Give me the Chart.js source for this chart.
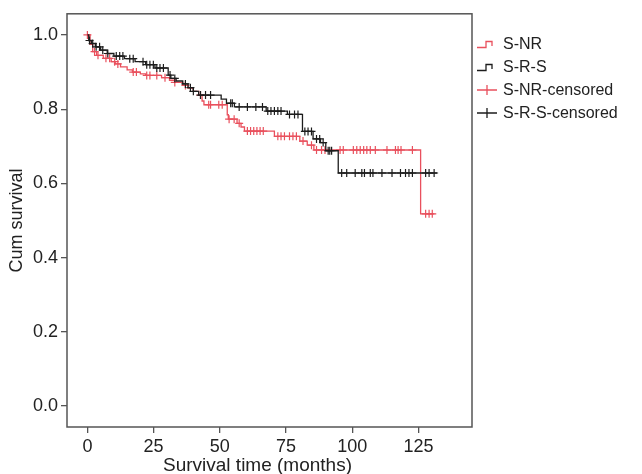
<!DOCTYPE html>
<html>
<head>
<meta charset="utf-8">
<script src="https://cdn.jsdelivr.net/npm/chart.js"></script>
<style>
  html, body { margin: 0; padding: 0; background: #fff; }
  #wrap { position: relative; width: 642px; height: 474px; overflow: hidden; }
  #legend { position: absolute; left: 0; top: 0; font-family: "Liberation Sans", Arial, Helvetica, sans-serif; font-size: 16px; color: #222; }
  .item { position: absolute; left: 476px; height: 20px; display: flex; align-items: center; white-space: nowrap; }
  .item svg { width: 24px; height: 16px; margin-right: 3px; }
</style>
</head>
<body>
<div id="wrap">
  <canvas id="c" width="642" height="474"></canvas>
  <div id="legend"></div>
</div>
<script>
// ---- Data ----
// Kaplan-Meier steps: time (months) and cumulative survival after the step
const timeNR = [0, 1, 2, 3.5, 6, 9, 10.5, 12.5, 15, 17, 20, 22, 28, 31, 33, 36, 38, 40, 42, 43.3, 44, 52.8, 53.2, 56.5, 58, 59.3, 70.6, 80.2, 83, 85.5, 125.8, 131];
const survNR = [1.0, 0.975, 0.955, 0.945, 0.937, 0.928, 0.922, 0.914, 0.906, 0.900, 0.895, 0.891, 0.885, 0.878, 0.872, 0.864, 0.857, 0.848, 0.838, 0.822, 0.812, 0.785, 0.773, 0.762, 0.752, 0.741, 0.727, 0.714, 0.703, 0.690, 0.518, 0.518];

const timeRS = [0, 0.5, 1.5, 3, 5, 7.5, 10, 14, 18, 22, 25.5, 30.5, 31.5, 33.5, 36, 38, 40, 42, 50.5, 52.5, 55.5, 67.5, 75.5, 81.2, 85.2, 88, 90, 94.7, 132];
const survRS = [1.0, 0.985, 0.977, 0.968, 0.959, 0.950, 0.943, 0.936, 0.928, 0.920, 0.911, 0.892, 0.883, 0.876, 0.868, 0.858, 0.848, 0.838, 0.827, 0.816, 0.806, 0.795, 0.786, 0.740, 0.720, 0.710, 0.688, 0.628, 0.628];

// Censoring times (months)
const censorNR = [0, 2.7, 4, 7, 8.4, 10.3, 11.5, 17.3, 18.5, 22.4, 23.6, 26.2, 29.3, 33, 37, 42.7, 45.8, 46.5, 49.6, 50.9, 53.5, 55.4, 57.3, 60.4, 61.6, 62.8, 64, 65.2, 66.4, 71.9, 73.1, 74.4, 76.3, 77.6, 78.9, 81.4, 84.6, 86.5, 88.4, 89.7, 95.4, 96.6, 100.4, 101.7, 103, 104.3, 105.5, 106.8, 108.7, 113.1, 116.3, 117.3, 118.4, 122.7, 127.7, 129, 130.2];
const censorRS = [0.8, 2, 3.3, 4.6, 5.8, 7.7, 10.9, 12.2, 13.4, 16, 17.3, 21, 22.4, 23.6, 24.9, 26.2, 27.4, 28.7, 31.2, 33, 37, 38.9, 40, 42.7, 44.6, 46.5, 54.1, 54.7, 57.3, 60.4, 63.6, 66.1, 68.1, 69.3, 70.6, 71.9, 73.1, 76.3, 78.2, 79.5, 82.1, 83.3, 84.6, 86.5, 87.7, 89, 90.9, 91.5, 92.2, 96, 97.9, 101.1, 103.6, 104.6, 106.8, 107.8, 111.2, 115, 118.2, 120.1, 121.4, 122.7, 127.7, 129, 130.9];

const xTicks = [0, 25, 50, 75, 100, 125];
const yTicks = [0.0, 0.2, 0.4, 0.6, 0.8, 1.0];
const seriesNames = ["S-NR", "S-R-S", "S-NR-censored", "S-R-S-censored"];
const xTitle = 'Survival time (months)';
const yTitle = 'Cum survival';

// ---- Helpers ----
const RED = '#e9505d';
const BLACK = '#1c1c1c';
const FRAME = '#555555';
const FONT = '"Liberation Sans", Arial, Helvetica, sans-serif';

function survivalAt(times, surv, t) {
  let v = surv[0];
  for (let i = 0; i < times.length; i++) { if (times[i] <= t) v = surv[i]; else break; }
  return v;
}
const stepPts = (times, surv) => times.map((t, i) => ({ x: t, y: surv[i] }));
const censorPts = (ct, times, surv) => ct.map(t => ({ x: t, y: survivalAt(times, surv, t) }));

const framePlugin = {
  id: 'frame',
  afterDatasetsDraw(chart) {
    const a = chart.chartArea, ctx = chart.ctx;
    ctx.save();
    ctx.strokeStyle = FRAME;
    ctx.lineWidth = 1.5;
    ctx.strokeRect(a.left, a.top, a.right - a.left, a.bottom - a.top);
    ctx.restore();
  },
  afterDraw(chart) {
    const ctx = chart.ctx;
    ctx.save();
    ctx.fillStyle = '#222';
    ctx.font = '19px ' + FONT;
    ctx.textAlign = 'center';
    ctx.textBaseline = 'alphabetic';
    ctx.fillText(xTitle, 257.5, 471);
    ctx.restore();
  }
};

new Chart(document.getElementById('c'), {
  type: 'line',
  data: {
    datasets: [
      { label: seriesNames[1], data: stepPts(timeRS, survRS), borderColor: BLACK, borderWidth: 1.3, pointRadius: 0, stepped: 'before', fill: false },
      { label: seriesNames[3], data: censorPts(censorRS, timeRS, survRS), showLine: false, pointStyle: 'cross', pointRadius: 4, pointBorderWidth: 1.2, borderColor: BLACK, pointBorderColor: BLACK },
      { label: seriesNames[0], data: stepPts(timeNR, survNR), borderColor: RED, borderWidth: 1.3, pointRadius: 0, stepped: 'before', fill: false },
      { label: seriesNames[2], data: censorPts(censorNR, timeNR, survNR), showLine: false, pointStyle: 'cross', pointRadius: 4, pointBorderWidth: 1.2, borderColor: RED, pointBorderColor: RED }
    ]
  },
  options: {
    responsive: false,
    devicePixelRatio: 1,
    animation: false,
    layout: { padding: { top: 12, right: 170, left: 0, bottom: 0 } },
    plugins: { legend: { display: false }, tooltip: { enabled: false } },
    scales: {
      x: {
        type: 'linear', min: -7.7, max: 145.2,
        afterFit: s => { s.height = 47; },
        afterBuildTicks: s => { s.ticks = xTicks.map(v => ({ value: v })); },
        grid: { drawOnChartArea: false, drawTicks: true, tickLength: 6, color: FRAME, lineWidth: 1.3 },
        border: { display: false },
        ticks: { color: '#222', font: { family: FONT, size: 18 }, padding: 3, maxRotation: 0, autoSkip: false, callback: v => String(v) },
        title: { display: false }
      },
      y: {
        type: 'linear', min: -0.0563, max: 1.057,
        afterFit: s => { s.width = 67; },
        afterBuildTicks: s => { s.ticks = yTicks.map(v => ({ value: v })); },
        grid: { drawOnChartArea: false, drawTicks: true, tickLength: 6, color: FRAME, lineWidth: 1.3 },
        border: { display: false },
        ticks: { color: '#222', font: { family: FONT, size: 18 }, padding: 3, autoSkip: false, callback: v => v.toFixed(1) },
        title: { display: true, text: yTitle, color: '#222', font: { family: FONT, size: 18, lineHeight: 1.1 }, padding: { top: 7, bottom: 0 } }
      }
    }
  },
  plugins: [framePlugin]
});

// ---- HTML legend ----
const legendDefs = [
  { name: seriesNames[0], color: RED, kind: 'step' },
  { name: seriesNames[1], color: BLACK, kind: 'step' },
  { name: seriesNames[2], color: RED, kind: 'cross' },
  { name: seriesNames[3], color: BLACK, kind: 'cross' }
];
const legendTops = [34, 57, 80, 103];
const lg = document.getElementById('legend');
legendDefs.forEach((d, i) => {
  const el = document.createElement('div');
  el.className = 'item';
  el.style.top = legendTops[i] + 'px';
  const icon = d.kind === 'step'
    ? `<svg viewBox="0 0 24 16"><path d="M1 11.5 H10 V5.5 H16 V10" fill="none" stroke="${d.color}" stroke-width="1.3"/></svg>`
    : `<svg viewBox="0 0 24 16"><path d="M1 8 H21 M11 3 V13" fill="none" stroke="${d.color}" stroke-width="1.3"/></svg>`;
  el.innerHTML = icon + '<span>' + d.name + '</span>';
  lg.appendChild(el);
});
</script>
</body>
</html>
